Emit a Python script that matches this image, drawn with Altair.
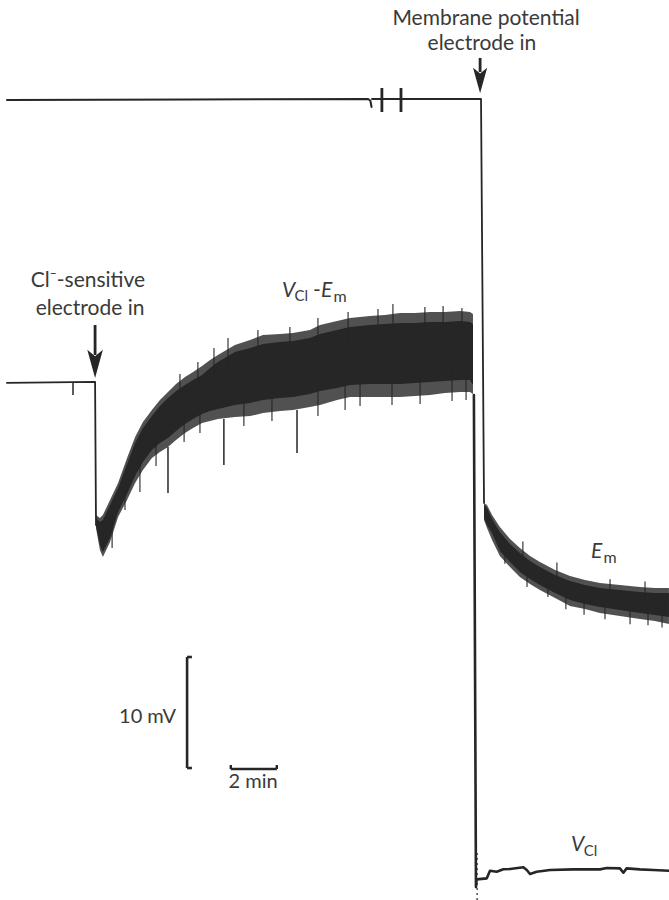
import altair as alt
import pandas as pd

# ---- axes: time in minutes (x), potential in mV with arbitrary offset (y)
T_DOMAIN = [-0.304, 28.783]
V_DOMAIN = [0.0, 81.08]

INK = "#262626"
TXT = "#3a3a3a"
FONT = "Lato"

# ---- top trace: membrane-potential electrode channel
top_t = [0.00, 8.00, 15.70, 15.80, 15.85]
top_v = [72.07, 72.12, 72.16, 72.00, 71.44]
top2_t = [15.87, 20.61, 20.74]
top2_v = [72.16, 72.16, 35.77]
break_t = [16.30, 17.13]
break_lo, break_hi = 70.99, 73.15

# ---- V_Cl - E_m trace: baseline before the Cl- electrode goes in
base_t = [0.00, 3.83, 3.87]
base_v = [46.58, 46.67, 33.78]

# noisy band: outer envelope (fringe of the oscillations)
band1_t = [3.87, 4.04, 4.17, 4.48, 4.83, 5.22, 5.57, 5.91, 6.30, 6.65, 7.00, 7.35,
           7.74, 8.09, 8.48, 8.83, 9.17, 9.91, 10.57, 11.13, 11.87, 12.43, 13.17,
           13.61, 14.35, 14.91, 15.78, 16.43, 17.09, 17.74, 18.39, 19.04, 19.70,
           20.13, 20.26]
band1_hi = [34.68, 34.41, 34.68, 36.04, 37.57, 39.82, 41.71, 43.06, 44.14, 45.05,
            45.77, 46.49, 47.12, 47.57, 48.11, 48.65, 49.10, 50.00, 50.45, 50.90,
            50.99, 51.08, 51.35, 51.80, 52.16, 52.43, 52.61, 52.70, 52.88, 52.88,
            52.97, 52.97, 53.06, 52.97, 52.79]
band1_lo = [33.51, 31.53, 30.90, 32.25, 34.50, 36.04, 37.57, 38.74, 39.82, 40.36,
            40.81, 41.44, 42.07, 42.52, 42.97, 43.15, 43.33, 43.51, 43.60, 43.87,
            44.05, 44.14, 44.41, 44.59, 45.05, 45.32, 45.32, 45.32, 45.32, 45.41,
            45.50, 45.68, 45.77, 45.77, 45.59]
# dense core of the band
core1_hi = [34.41, 34.05, 34.23, 35.59, 37.12, 39.28, 41.17, 42.52, 43.60, 44.50,
            45.23, 45.86, 46.40, 46.85, 47.30, 47.93, 48.47, 49.37, 49.73, 50.09,
            50.27, 50.36, 50.63, 50.99, 51.35, 51.62, 51.80, 51.89, 51.98, 51.98,
            52.07, 52.07, 52.16, 52.07, 51.89]
core1_lo = [33.69, 31.98, 31.35, 32.61, 34.95, 36.58, 38.20, 39.46, 40.54, 41.17,
            41.62, 42.25, 42.88, 43.33, 43.78, 44.05, 44.23, 44.59, 44.77, 45.05,
            45.23, 45.32, 45.59, 45.86, 46.13, 46.40, 46.49, 46.49, 46.49, 46.58,
            46.67, 46.76, 46.85, 46.85, 46.40]

# spikes sticking out of the band (time, tip value)
b1_up_t = [7.52, 8.30, 9.00, 9.61, 10.91, 12.30, 13.52, 14.83, 16.13, 16.78, 18.17, 18.96, 19.78]
b1_up_v = [47.39, 48.47, 49.73, 50.63, 51.35, 51.62, 52.43, 52.97, 53.24, 53.69, 53.42, 53.51, 53.33]
b1_dn_t = [4.57, 5.13, 5.78, 6.48, 7.70, 8.39, 10.30, 11.52, 13.52, 14.70, 15.35, 16.74, 17.96, 19.35, 19.96]
b1_dn_v = [31.71, 35.14, 36.76, 39.10, 41.26, 42.07, 42.70, 43.15, 43.60, 44.14, 44.50, 44.59, 44.68, 44.95, 45.05]

# long downward deflections (time, from, to)
long_t = [2.87, 7.00, 9.43, 12.61]
long_a = [46.67, 40.81, 43.33, 44.14]
long_b = [45.50, 36.67, 39.19, 40.27]

# ---- E_m band after the membrane-potential electrode goes in
band2_t = [20.74, 20.87, 21.09, 21.43, 21.87, 22.30, 22.74, 23.17, 23.83, 24.48,
           25.13, 25.78, 26.65, 27.52, 28.17, 28.78]
band2_hi = [35.77, 35.59, 34.68, 33.60, 32.52, 31.71, 30.99, 30.45, 29.73, 29.19,
            28.83, 28.56, 28.38, 28.20, 28.11, 28.11]
band2_lo = [34.23, 33.51, 32.43, 30.99, 30.00, 29.10, 28.47, 27.93, 27.21, 26.49,
            26.22, 25.86, 25.59, 25.32, 25.14, 24.86]
core2_hi = [35.59, 35.32, 34.32, 33.15, 32.07, 31.26, 30.54, 30.00, 29.28, 28.74,
            28.38, 28.11, 27.93, 27.75, 27.66, 27.66]
core2_lo = [34.41, 33.78, 33.06, 31.44, 30.45, 29.55, 28.92, 28.38, 27.66, 27.03,
            26.67, 26.40, 26.13, 25.86, 25.68, 25.50]
b2_dn_t = [21.65, 22.61, 23.52, 24.30, 25.09, 26.00, 27.09, 27.87, 28.48]
b2_dn_v = [30.30, 28.20, 27.30, 26.20, 25.70, 25.30, 24.85, 24.75, 24.55]
b2_up_t = [22.43, 23.91, 26.22, 27.74]
b2_up_v = [32.30, 30.40, 28.90, 28.70]

# ---- drop and V_Cl trace
vcl_t = [20.30, 20.39, 20.42, 20.86, 21.00, 21.29, 21.58, 21.87, 22.45, 22.60, 22.74,
         23.03, 23.61, 24.62, 25.78, 26.07, 26.65, 26.80, 26.94, 27.52, 28.10, 28.78]
vcl_v = [45.50, 1.17, 1.86, 1.95, 2.64, 2.55, 2.77, 2.79, 2.95, 2.70, 2.34,
         2.55, 2.70, 2.76, 2.76, 2.88, 2.85, 2.46, 2.85, 2.76, 2.70, 2.64]

# ---- calibration bars
mv_bar_t, mv_bar_lo, mv_bar_hi, mv_serif_t = 7.83, 11.89, 21.89, 8.04
min_bar_t0, min_bar_t1, min_bar_v, min_tick_v = 9.73, 11.73, 11.80, 12.16

# ---- arrows (shaft top, shaft bottom, head centre)
arrow_t = [3.83, 20.57]
arrow_top = [51.80, 75.86]
arrow_bot = [49.10, 74.59]
arrow_head = [48.29, 73.83]
arrow_size = [800, 660]

# ---- texts
ann_text = ["Membrane potential", "electrode in", "Cl\u207b-sensitive", "electrode in", "2 min"]
ann_t = [20.83, 20.65, 3.52, 3.61, 10.70]
ann_v = [78.83, 76.58, 55.23, 52.70, 10.09]
ann_size = [21, 21, 21, 21, 20]

right_text = ["10 mV"]
right_t = [7.35]
right_v = [15.95]

ital_text = ["V", "E", "E", "V"]
ital_t = [11.96, 13.65, 25.39, 24.52]
ital_v = [54.32, 54.32, 30.81, 4.41]

dash_text = ["-"]
dash_t = [13.30]
dash_v = [54.32]

sub_text = ["Cl", "m", "m", "Cl"]
sub_t = [12.50, 14.20, 25.93, 25.08]
sub_v = [53.96, 53.87, 30.36, 3.96]
sub_size = [15, 16, 16, 15]


def X(f="t"):
    return alt.X(f"{f}:Q", scale=alt.Scale(domain=T_DOMAIN, nice=False, zero=False), axis=None)


def Y(f="v"):
    return alt.Y(f"{f}:Q", scale=alt.Scale(domain=V_DOMAIN, nice=False, zero=False), axis=None)


def seg(name, ts, vs, w):
    return pd.DataFrame({"seg": name, "i": range(len(ts)), "t": ts, "v": vs, "w": w})


line_df = pd.concat([
    seg("top1", top_t, top_v, 2.0),
    seg("top2", top2_t, top2_v, 1.8),
    seg("base", base_t, base_v, 1.8),
    seg("vcl", vcl_t, vcl_v, 2.6),
], ignore_index=True)

lines = alt.Chart(line_df).mark_line(color=INK, strokeJoin="round", strokeCap="round").encode(
    x=X(), y=Y(), detail="seg:N", order="i:Q",
    strokeWidth=alt.StrokeWidth("w:Q", scale=None, legend=None))


def band(ts, hi, lo, op):
    return alt.Chart(pd.DataFrame({"t": ts, "hi": hi, "lo": lo})).mark_area(
        color=INK, opacity=op).encode(x=X(), y=Y("hi"), y2=alt.Y2("lo"))


fringe1 = band(band1_t, band1_hi, band1_lo, 0.8)
core1 = band(band1_t, core1_hi, core1_lo, 1.0)
fringe2 = band(band2_t, band2_hi, band2_lo, 0.8)
core2 = band(band2_t, core2_hi, core2_lo, 1.0)

spk_rows = []
for t, v in zip(b1_up_t, b1_up_v):
    spk_rows.append({"t": t, "a": v, "b": v - 3.0})
for t, v in zip(b1_dn_t, b1_dn_v):
    spk_rows.append({"t": t, "a": v, "b": v + 3.0})
for t, v in zip(b2_up_t, b2_up_v):
    spk_rows.append({"t": t, "a": v, "b": v - 1.5})
for t, v in zip(b2_dn_t, b2_dn_v):
    spk_rows.append({"t": t, "a": v, "b": v + 1.5})
spikes = alt.Chart(pd.DataFrame(spk_rows)).mark_rule(color=INK, strokeWidth=1.1).encode(
    x=X(), y=Y("a"), y2=alt.Y2("b"))
longs = alt.Chart(pd.DataFrame({"t": long_t, "a": long_a, "b": long_b})).mark_rule(
    color=INK, strokeWidth=1.5).encode(x=X(), y=Y("a"), y2=alt.Y2("b"))

breaks = alt.Chart(pd.DataFrame({"t": break_t, "a": break_lo, "b": break_hi})).mark_rule(
    color=INK, strokeWidth=2.8).encode(x=X(), y=Y("a"), y2=alt.Y2("b"))

dotted = alt.Chart(pd.DataFrame({"t": [20.44], "a": [0.0], "b": [4.3]})).mark_rule(
    color=INK, strokeWidth=1.2, strokeDash=[2, 3]).encode(x=X(), y=Y("a"), y2=alt.Y2("b"))

# calibration bars
vbar = alt.Chart(pd.DataFrame({"t": [mv_bar_t], "a": [mv_bar_lo], "b": [mv_bar_hi]})).mark_rule(
    color=INK, strokeWidth=2.6).encode(x=X(), y=Y("a"), y2=alt.Y2("b"))
hbar_df = pd.DataFrame({"t": [mv_bar_t, mv_bar_t, min_bar_t0], "t2": [mv_serif_t, mv_serif_t, min_bar_t1],
                        "v": [mv_bar_lo, mv_bar_hi, min_bar_v]})
hbars = alt.Chart(hbar_df).mark_rule(color=INK, strokeWidth=2.6).encode(
    x=X(), x2=alt.X2("t2"), y=Y())
ticks = alt.Chart(pd.DataFrame({"t": [min_bar_t0, min_bar_t1], "a": [min_bar_v, min_bar_v],
                                "b": [min_tick_v, min_tick_v]})).mark_rule(
    color=INK, strokeWidth=2.4).encode(x=X(), y=Y("a"), y2=alt.Y2("b"))

# arrows
shafts = alt.Chart(pd.DataFrame({"t": arrow_t, "a": arrow_top, "b": arrow_bot})).mark_rule(
    color=INK, strokeWidth=2.8).encode(x=X(), y=Y("a"), y2=alt.Y2("b"))
heads = alt.Chart(pd.DataFrame({"t": arrow_t, "v": arrow_head, "s": arrow_size})).mark_point(
    shape="M0,1L-0.55,-1L0,-0.55L0.55,-1Z", filled=True, color=INK, opacity=1, strokeWidth=0).encode(
    x=X(), y=Y(), size=alt.Size("s:Q", scale=None, legend=None))

# texts
ann = alt.Chart(pd.DataFrame({"t": ann_t, "v": ann_v, "txt": ann_text, "fs": ann_size})).mark_text(
    align="center", baseline="alphabetic", font=FONT, color=TXT).encode(
    x=X(), y=Y(), text="txt:N", size=alt.Size("fs:Q", scale=None, legend=None))
rtxt = alt.Chart(pd.DataFrame({"t": right_t, "v": right_v, "txt": right_text})).mark_text(
    align="right", baseline="alphabetic", font=FONT, color=TXT, fontSize=20).encode(
    x=X(), y=Y(), text="txt:N")
ital = alt.Chart(pd.DataFrame({"t": ital_t, "v": ital_v, "txt": ital_text})).mark_text(
    align="left", baseline="alphabetic", font=FONT, fontStyle="italic", color=TXT, fontSize=21).encode(
    x=X(), y=Y(), text="txt:N")
dash = alt.Chart(pd.DataFrame({"t": dash_t, "v": dash_v, "txt": dash_text})).mark_text(
    align="left", baseline="alphabetic", font=FONT, color=TXT, fontSize=21).encode(
    x=X(), y=Y(), text="txt:N")
subs = alt.Chart(pd.DataFrame({"t": sub_t, "v": sub_v, "txt": sub_text, "fs": sub_size})).mark_text(
    align="left", baseline="alphabetic", font=FONT, color=TXT).encode(
    x=X(), y=Y(), text="txt:N", size=alt.Size("fs:Q", scale=None, legend=None))

chart = alt.layer(
    fringe1, core1, fringe2, core2, spikes, longs, lines, breaks, dotted, vbar, hbars, ticks,
    shafts, heads, ann, rtxt, ital, dash, subs
).properties(
    width=669, height=900, padding=0, background="white",
    autosize=alt.AutoSizeParams(type="none")
).configure_view(stroke=None)

chart.save("out.html", embed_options={"renderer": "svg", "actions": False})
